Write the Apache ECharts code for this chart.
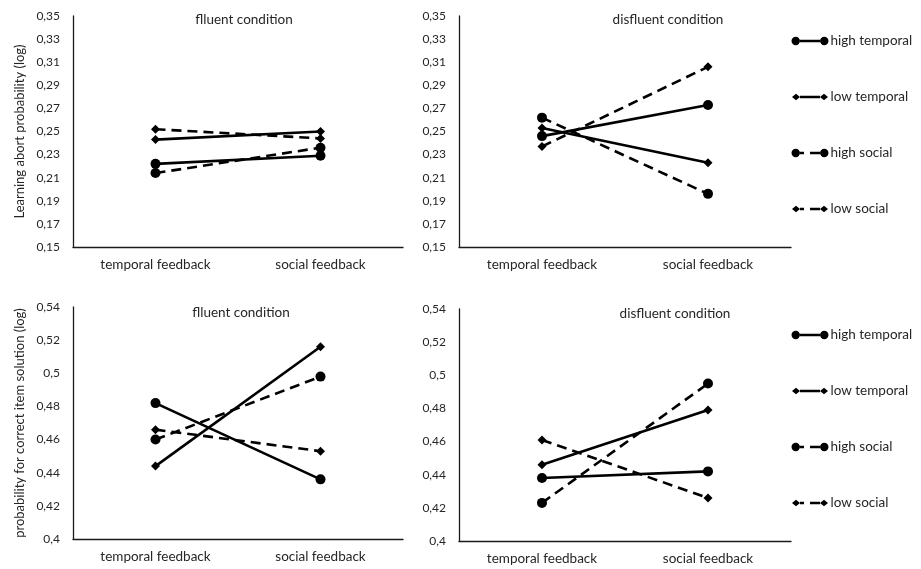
<!DOCTYPE html>
<html>
<head>
<meta charset="utf-8">
<script src="https://cdn.jsdelivr.net/npm/echarts@6/dist/echarts.min.js"></script>
<style>html,body{margin:0;padding:0;background:#fff}#c{width:921px;height:569px}</style>
</head>
<body>
<div id="c"></div>
<script>
var categories = ['temporal feedback', 'social feedback'];
var seriesNames = ['high temporal', 'low temporal', 'high social', 'low social'];

// Learning abort probability (log)
var abortFluentHighTemporal = [0.222, 0.229];
var abortFluentLowTemporal = [0.243, 0.250];
var abortFluentHighSocial = [0.214, 0.236];
var abortFluentLowSocial = [0.252, 0.244];
var abortDisfluentHighTemporal = [0.246, 0.273];
var abortDisfluentLowTemporal = [0.253, 0.223];
var abortDisfluentHighSocial = [0.262, 0.196];
var abortDisfluentLowSocial = [0.237, 0.306];

// probability for correct item solution (log)
var correctFluentHighTemporal = [0.482, 0.436];
var correctFluentLowTemporal = [0.444, 0.516];
var correctFluentHighSocial = [0.460, 0.498];
var correctFluentLowSocial = [0.466, 0.453];
var correctDisfluentHighTemporal = [0.438, 0.442];
var correctDisfluentLowTemporal = [0.446, 0.479];
var correctDisfluentHighSocial = [0.423, 0.495];
var correctDisfluentLowSocial = [0.461, 0.426];

var abortTicks = {min: 0.15, max: 0.35, interval: 0.02};
var correctTicks = {min: 0.40, max: 0.54, interval: 0.02};

var FONT = 'Lato';
var TXT = '#262626';

function commaFmt(v) {
  var s = (Math.round(v * 100) / 100).toString();
  return s.replace('.', ',');
}

var grids = [
  {left: 73, top: 16, width: 330, height: 231},
  {left: 459, top: 16, width: 332, height: 231},
  {left: 73, top: 307, width: 330, height: 232},
  {left: 459, top: 309, width: 332, height: 232}
];

var xAxes = grids.map(function (g, i) {
  return {
    type: 'category', gridIndex: i, data: categories, boundaryGap: true,
    axisLine: {lineStyle: {color: '#1a1a1a', width: 1.3}},
    axisTick: {show: false},
    axisLabel: {color: TXT, fontFamily: FONT, fontSize: 13.5, margin: 11}
  };
});

var yNames = ['Learning abort probability (log)', '', 'probability for correct item solution (log)', ''];
var yAxes = grids.map(function (g, i) {
  var t = i < 2 ? abortTicks : correctTicks;
  return {
    type: 'value', gridIndex: i, min: t.min, max: t.max, interval: t.interval,
    splitLine: {show: false},
    axisLine: {show: true, lineStyle: {color: '#1a1a1a', width: 1.3}},
    axisTick: {show: false},
    axisLabel: {color: TXT, fontFamily: FONT, fontSize: 12, margin: 13, formatter: commaFmt},
    name: yNames[i], nameLocation: 'middle', nameRotate: 90, nameGap: 47,
    nameTextStyle: {color: TXT, fontFamily: FONT, fontSize: 13}
  };
});

var panelData = [
  [abortFluentHighTemporal, abortFluentLowTemporal, abortFluentHighSocial, abortFluentLowSocial],
  [abortDisfluentHighTemporal, abortDisfluentLowTemporal, abortDisfluentHighSocial, abortDisfluentLowSocial],
  [correctFluentHighTemporal, correctFluentLowTemporal, correctFluentHighSocial, correctFluentLowSocial],
  [correctDisfluentHighTemporal, correctDisfluentLowTemporal, correctDisfluentHighSocial, correctDisfluentLowSocial]
];

var styles = [
  {symbol: 'circle', size: 10, dash: 'solid'},
  {symbol: 'diamond', size: 9, dash: 'solid'},
  {symbol: 'circle', size: 10, dash: [10, 6]},
  {symbol: 'diamond', size: 9, dash: [10, 6]}
];

var series = [];
panelData.forEach(function (pd, gi) {
  pd.forEach(function (vals, si) {
    var st = styles[si];
    series.push({
      name: seriesNames[si], type: 'line', xAxisIndex: gi, yAxisIndex: gi,
      data: vals, symbol: st.symbol, symbolSize: st.size, showSymbol: true,
      lineStyle: {color: '#000', width: 2.6, type: st.dash},
      itemStyle: {color: '#000'},
      emphasis: {disabled: true},
      animation: false, z: 3
    });
  });
});

var titleStyle = {color: TXT, fontFamily: FONT, fontSize: 13.5, fontWeight: 'normal'};
var titles = [
  {text: 'flluent condition', left: 244, top: 13},
  {text: 'disfluent condition', left: 668, top: 13},
  {text: 'flluent condition', left: 241, top: 306},
  {text: 'disfluent condition', left: 675, top: 307}
].map(function (t) {
  return {text: t.text, left: t.left, top: t.top, textAlign: 'center', padding: 0, textStyle: titleStyle};
});

// legend icons: marker - line - marker (solid or dashed)
var BOX = 'M0,0.01 L0.01,0.01 L0.01,0 Z M38,10 L37.99,10 L37.99,9.99 Z ';
var CIRC_L = 'M0.5,5 A4.2,4.2 0 1,0 8.9,5 A4.2,4.2 0 1,0 0.5,5 Z ';
var CIRC_R = 'M29.1,5 A4.2,4.2 0 1,0 37.5,5 A4.2,4.2 0 1,0 29.1,5 Z ';
var DIA_L = 'M1,5 L5,1.7 L9,5 L5,8.3 Z ';
var DIA_R = 'M29,5 L33,1.7 L37,5 L33,8.3 Z ';
var iconPaths = [
  'path://' + BOX + CIRC_L + 'M8.9,3.8 L29.1,3.8 L29.1,6.2 L8.9,6.2 Z ' + CIRC_R,
  'path://' + BOX + DIA_L + 'M9,3.8 L29,3.8 L29,6.2 L9,6.2 Z ' + DIA_R,
  'path://' + BOX + CIRC_L + 'M8.9,3.8 L13,3.8 L13,6.2 L8.9,6.2 Z M19,3.8 L29.1,3.8 L29.1,6.2 L19,6.2 Z ' + CIRC_R,
  'path://' + BOX + DIA_L + 'M9,3.8 L13,3.8 L13,6.2 L9,6.2 Z M19,3.8 L29,3.8 L29,6.2 L19,6.2 Z ' + DIA_R
];
var legendData = seriesNames.map(function (n, i) {
  return {name: n, icon: iconPaths[i], itemStyle: {color: '#000', borderWidth: 0}};
});

var legendBase = {
  orient: 'vertical', left: 791, data: legendData, itemWidth: 39, itemHeight: 10,
  itemGap: 42, selectedMode: false, padding: 0,
  itemStyle: {borderWidth: 0},
  textStyle: {color: TXT, fontFamily: FONT, fontSize: 13.5, padding: [0, 0, 0, -4]}
};
var legends = [
  Object.assign({}, legendBase, {top: 34}),
  Object.assign({}, legendBase, {top: 328})
];

var chart = echarts.init(document.getElementById('c'), null, {renderer: 'canvas'});
chart.setOption({
  backgroundColor: '#fff',
  animation: false,
  title: titles,
  legend: legends,
  grid: grids,
  xAxis: xAxes,
  yAxis: yAxes,
  series: series
});
</script>
</body>
</html>
